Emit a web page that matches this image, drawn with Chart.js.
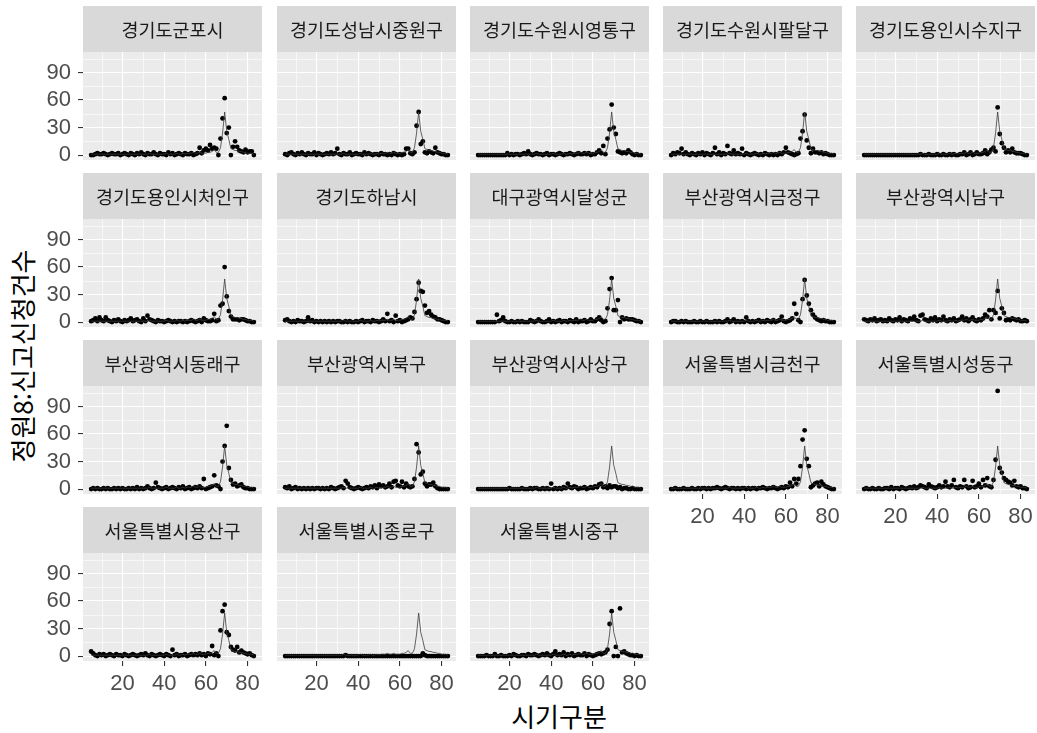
<!DOCTYPE html>
<html lang="ko">
<head>
<meta charset="utf-8">
<title>정원8 신고신청건수</title>
<script src="https://cdn.jsdelivr.net/npm/chart.js@4.4.1/dist/chart.umd.min.js"></script>
<style>
  html, body { margin: 0; padding: 0; background: #ffffff; }
  #wrap { position: relative; width: 1037px; height: 733px; overflow: hidden; background: #ffffff; }
  #wrap canvas { position: absolute; }
  .axis-title { position: absolute; font-family: "Noto Sans CJK KR", "Noto Sans", sans-serif; font-size: 26px; color: #000; line-height: 1; white-space: nowrap; }
  #xTitle { left: 83px; width: 952px; top: 703px; text-align: center; }
  #yTitle { left: 22px; top: 356px; transform: translate(-50%, -50%) rotate(-90deg); }
</style>
</head>
<body>
<div id="wrap">
  <div id="xTitle" class="axis-title">시기구분</div>
  <div id="yTitle" class="axis-title">정원8:신고신청건수</div>
</div>
<script>
// 시기구분 (period index)
const periods = [
  5, 6, 7, 8, 9, 10, 11, 12, 13, 14,
  15, 16, 17, 18, 19, 20, 21, 22, 23, 24,
  25, 26, 27, 28, 29, 30, 31, 32, 33, 34,
  35, 36, 37, 38, 39, 40, 41, 42, 43, 44,
  45, 46, 47, 48, 49, 50, 51, 52, 53, 54,
  55, 56, 57, 58, 59, 60, 61, 62, 63, 64,
  65, 66, 67, 68, 69, 70, 71, 72, 73, 74,
  75, 76, 77, 78, 79, 80, 81, 82, 83
];

// overall average, drawn as the thin reference line in every panel
const averageLine = [
  1, 1, 1, 1, 1, 1, 1, 1, 1, 1,
  1, 1, 1, 1, 1, 1, 1, 1, 1, 1,
  1, 1, 1, 1, 1, 1, 1, 1, 2, 1,
  1, 1, 1, 1, 1, 1, 2, 1, 1, 1,
  1, 2, 1, 1, 2, 1, 2, 2, 2, 3,
  2, 2, 3, 2, 2, 2, 3, 3, 4, 6,
  3, 3, 8, 24, 47, 26, 17, 7, 6, 5,
  5, 4, 4, 3, 3, 2, 2, 2, 1
];

const gunpo = [
  0, 0, 1, 2, 1, 1, 2, 1, 0, 1,
  2, 1, 1, 2, 0, 1, 2, 1, 0, 2,
  1, 0, 2, 1, 3, 1, 0, 2, 1, 1,
  3, 1, 0, 2, 1, 1, 0, 3, 1, 2,
  0, 1, 2, 1, 0, 2, 1, 1, 2, 0,
  1, 2, 8, 2, 5, 7, 5, 11, 7, 8,
  7, 0, 18, 40, 62, 24, 30, 0, 9, 15,
  9, 5, 4, 3, 6, 3, 4, 4, 0
];
const seongnamJungwon = [
  1, 0, 2, 3, 1, 0, 2, 1, 3, 1,
  0, 2, 1, 1, 3, 0, 2, 1, 0, 1,
  2, 1, 3, 1, 2, 7, 1, 0, 2, 1,
  1, 3, 0, 1, 2, 1, 1, 0, 3, 1,
  2, 1, 0, 1, 1, 0, 2, 1, 1, 0,
  1, 0, 2, 1, 0, 1, 0, 1, 7, 7,
  2, 1, 3, 32, 47, 12, 15, 3, 2, 4,
  3, 2, 8, 3, 2, 1, 1, 0, 0
];
const suwonYeongtong = [
  0, 0, 0, 0, 0, 0, 0, 0, 0, 0,
  0, 0, 0, 0, 2, 0, 1, 0, 1, 1,
  0, 1, 2, 1, 4, 1, 0, 1, 2, 1,
  1, 0, 1, 2, 0, 1, 1, 0, 1, 2,
  1, 0, 1, 1, 2, 1, 0, 1, 2, 1,
  1, 2, 1, 2, 0, 1, 1, 3, 5, 2,
  10, 1, 18, 28, 55, 30, 23, 4, 3, 2,
  3, 2, 5, 3, 1, 0, 1, 0, 0
];
const suwonPaldal = [
  0, 2, 1, 3, 2, 7, 1, 3, 1, 0,
  2, 1, 0, 2, 1, 3, 0, 2, 1, 0,
  2, 8, 1, 3, 0, 2, 1, 10, 2, 1,
  5, 1, 2, 1, 7, 0, 2, 1, 0, 1,
  2, 1, 0, 1, 0, 2, 1, 0, 1, 0,
  1, 0, 2, 1, 3, 8, 3, 2, 1, 0,
  1, 2, 18, 26, 44, 16, 8, 2, 7, 3,
  3, 2, 3, 1, 2, 1, 0, 0, 0
];
const yonginSuji = [
  0, 0, 0, 0, 0, 0, 0, 0, 0, 0,
  0, 0, 0, 0, 0, 0, 0, 0, 0, 0,
  0, 0, 0, 0, 0, 0, 0, 1, 0, 0,
  0, 1, 0, 0, 0, 1, 0, 0, 1, 0,
  0, 1, 0, 1, 0, 0, 1, 1, 3, 0,
  1, 3, 0, 1, 3, 1, 1, 2, 5, 1,
  3, 6, 8, 4, 52, 23, 13, 8, 3, 5,
  3, 7, 3, 2, 2, 2, 1, 0, 0
];
const yonginCheoin = [
  1, 2, 4, 1, 5, 2, 1, 5, 2, 1,
  0, 2, 1, 3, 1, 0, 2, 1, 2, 4,
  1, 2, 3, 1, 0, 4, 1, 7, 3, 2,
  1, 0, 2, 1, 1, 0, 1, 2, 1, 0,
  1, 0, 1, 1, 0, 1, 0, 1, 2, 1,
  0, 1, 2, 0, 4, 2, 1, 1, 2, 9,
  1, 2, 18, 20, 60, 28, 12, 6, 3, 3,
  3, 2, 3, 3, 2, 1, 1, 0, 0
];
const hanam = [
  2, 3, 1, 0, 1, 0, 2, 1, 1, 0,
  1, 5, 1, 2, 0, 1, 0, 1, 0, 1,
  0, 1, 0, 1, 0, 1, 1, 0, 0, 1,
  0, 1, 0, 0, 1, 0, 1, 2, 0, 1,
  1, 0, 2, 1, 1, 0, 1, 3, 1, 9,
  1, 2, 0, 7, 1, 2, 0, 1, 2, 3,
  5, 4, 11, 25, 43, 34, 33, 18, 10, 12,
  8, 6, 5, 3, 3, 2, 1, 0, 0
];
const daeguDalseong = [
  0, 0, 0, 0, 0, 0, 0, 0, 0, 8,
  1, 2, 5, 1, 0, 0, 1, 0, 0, 1,
  0, 1, 0, 0, 0, 2, 1, 0, 1, 3,
  1, 0, 0, 1, 3, 0, 1, 0, 1, 2,
  0, 1, 1, 0, 2, 1, 0, 3, 0, 1,
  1, 2, 0, 1, 3, 1, 1, 3, 5, 2,
  0, 1, 15, 36, 48, 13, 13, 24, 0, 5,
  3, 4, 3, 3, 3, 2, 1, 1, 0
];
const busanGeumjeong = [
  0, 1, 1, 0, 0, 1, 0, 1, 0, 0,
  0, 1, 0, 0, 1, 0, 0, 1, 0, 0,
  0, 1, 0, 1, 0, 0, 1, 3, 0, 1,
  3, 0, 1, 0, 1, 0, 5, 1, 0, 1,
  0, 1, 2, 0, 1, 0, 2, 1, 0, 2,
  0, 1, 2, 6, 1, 0, 1, 2, 4, 20,
  9, 2, 0, 25, 46, 29, 20, 13, 8, 5,
  3, 2, 1, 2, 1, 1, 0, 0, 0
];
const busanNam = [
  3, 2, 1, 3, 2, 4, 1, 2, 3, 1,
  2, 1, 4, 2, 1, 3, 2, 5, 1, 3,
  2, 1, 4, 3, 6, 2, 1, 7, 8, 3,
  2, 1, 4, 2, 5, 1, 3, 2, 6, 2,
  1, 3, 2, 4, 1, 2, 3, 6, 2, 4,
  1, 3, 5, 2, 1, 3, 2, 4, 8, 6,
  13, 3, 13, 10, 34, 4, 15, 10, 2, 3,
  2, 4, 3, 2, 3, 1, 1, 2, 1
];
const busanDongnae = [
  0, 1, 0, 1, 0, 0, 1, 0, 1, 0,
  0, 1, 0, 1, 0, 1, 0, 0, 1, 0,
  1, 0, 2, 0, 1, 0, 1, 3, 1, 0,
  1, 7, 2, 1, 0, 1, 2, 0, 1, 2,
  1, 0, 2, 1, 3, 0, 1, 2, 0, 1,
  2, 1, 3, 1, 11, 0, 1, 2, 3, 15,
  4, 3, 0, 30, 47, 69, 23, 10, 5, 6,
  3, 4, 5, 2, 1, 1, 0, 0, 0
];
const busanBuk = [
  2, 1, 3, 0, 1, 2, 0, 1, 0, 1,
  0, 1, 0, 1, 0, 1, 1, 0, 1, 0,
  1, 0, 2, 1, 0, 1, 2, 3, 1, 9,
  6, 2, 1, 0, 1, 2, 1, 0, 1, 2,
  1, 3, 2, 4, 1, 5, 3, 4, 2, 3,
  6, 2, 8, 9, 4, 3, 8, 2, 6, 3,
  2, 3, 11, 49, 40, 16, 19, 6, 3, 5,
  5, 7, 3, 1, 0, 0, 0, 0, 0
];
const busanSasang = [
  0, 0, 0, 0, 0, 0, 0, 0, 0, 0,
  0, 0, 0, 0, 0, 1, 0, 0, 0, 0,
  0, 1, 0, 0, 0, 1, 0, 1, 1, 0,
  0, 1, 0, 1, 0, 6, 0, 1, 0, 1,
  0, 2, 1, 6, 2, 1, 3, 2, 0, 1,
  1, 2, 0, 1, 2, 1, 3, 2, 5, 6,
  2, 3, 1, 4, 2, 3, 3, 1, 2, 0,
  1, 1, 0, 0, 1, 0, 0, 0, 0
];
const seoulGeumcheon = [
  0, 0, 1, 0, 0, 0, 1, 0, 0, 0,
  1, 0, 0, 1, 0, 1, 1, 0, 1, 0,
  1, 1, 2, 1, 0, 1, 2, 1, 0, 1,
  1, 0, 1, 0, 1, 1, 0, 1, 0, 1,
  1, 0, 1, 1, 2, 1, 0, 1, 1, 2,
  1, 0, 1, 2, 1, 3, 2, 7, 3, 11,
  6, 11, 25, 54, 64, 33, 25, 2, 4, 6,
  7, 3, 8, 5, 3, 2, 1, 0, 0
];
const seoulSeongdong = [
  0, 1, 0, 0, 1, 0, 0, 1, 0, 0,
  1, 1, 0, 2, 0, 1, 1, 0, 2, 1,
  0, 1, 2, 1, 3, 1, 2, 4, 3, 2,
  1, 5, 3, 2, 1, 2, 4, 2, 3, 8,
  3, 2, 4, 10, 2, 1, 3, 2, 10, 3,
  1, 2, 9, 2, 3, 6, 2, 10, 4, 12,
  3, 2, 10, 32, 107, 23, 18, 12, 10, 8,
  7, 4, 9, 3, 2, 3, 1, 1, 0
];
const seoulYongsan = [
  5, 3, 1, 0, 2, 1, 2, 0, 1, 2,
  1, 0, 2, 1, 1, 0, 2, 1, 0, 1,
  2, 1, 0, 1, 2, 1, 3, 1, 0, 2,
  1, 0, 1, 2, 1, 0, 2, 1, 0, 7,
  1, 2, 0, 1, 1, 2, 0, 1, 2, 1,
  2, 1, 3, 1, 2, 0, 3, 2, 11, 1,
  3, 0, 28, 49, 56, 26, 23, 10, 7, 6,
  10, 4, 6, 4, 3, 2, 3, 1, 0
];
const seoulJongno = [
  0, 0, 0, 0, 0, 0, 0, 0, 0, 0,
  0, 0, 0, 0, 0, 0, 0, 0, 0, 0,
  0, 0, 0, 0, 0, 0, 0, 0, 0, 1,
  0, 0, 0, 0, 0, 0, 0, 0, 0, 0,
  0, 0, 0, 0, 0, 0, 0, 0, 0, 0,
  0, 0, 0, 0, 0, 0, 0, 0, 0, 0,
  0, 0, 0, 0, 0, 0, 3, 1, 0, 0,
  0, 0, 0, 0, 0, 0, 0, 0, 0
];
const seoulJung = [
  0, 0, 0, 0, 1, 0, 0, 0, 2, 0,
  0, 1, 0, 0, 0, 1, 0, 2, 1, 0,
  0, 1, 1, 0, 2, 1, 1, 2, 1, 0,
  1, 2, 1, 3, 1, 0, 2, 5, 1, 2,
  1, 4, 0, 2, 1, 3, 0, 1, 2, 1,
  1, 3, 0, 2, 1, 0, 1, 2, 3, 2,
  3, 4, 7, 35, 49, 0, 10, 0, 52, 4,
  5, 3, 2, 1, 1, 0, 1, 0, 0
];

// facet order (strip label, series)
const facetLabels = [
  '경기도군포시', '경기도성남시중원구', '경기도수원시영통구', '경기도수원시팔달구', '경기도용인시수지구',
  '경기도용인시처인구', '경기도하남시', '대구광역시달성군', '부산광역시금정구', '부산광역시남구',
  '부산광역시동래구', '부산광역시북구', '부산광역시사상구', '서울특별시금천구', '서울특별시성동구',
  '서울특별시용산구', '서울특별시종로구', '서울특별시중구'
];
const facetSeries = [
  gunpo, seongnamJungwon, suwonYeongtong, suwonPaldal, yonginSuji,
  yonginCheoin, hanam, daeguDalseong, busanGeumjeong, busanNam,
  busanDongnae, busanBuk, busanSasang, seoulGeumcheon, seoulSeongdong,
  seoulYongsan, seoulJongno, seoulJung
];

// axis breaks
const xTicks = [20, 40, 60, 80];
const xMinorTicks = [10, 30, 50, 70];
const yTicks = [0, 30, 60, 90];
const yMinorTicks = [15, 45, 75, 105];

// facet grid geometry
const NCOL = 5;
const colLefts = [83, 277, 470, 663, 856];
const rowTops = [52, 219, 386, 553];
const PANEL_W = 179;
const PANEL_H = 108;
const STRIP_H = 46;
const AXIS_W = 60;
const AXIS_H = 44;
const PAD_R = 12;

// ggplot-style 5% expansion of the shared data range
function expandRange(lo, hi) {
  const d = (hi - lo) * 0.05;
  return [lo - d, hi + d];
}
const [xMin, xMax] = expandRange(Math.min(...periods), Math.max(...periods));
const allValues = facetSeries.flat().concat(averageLine);
const [yMin, yMax] = expandRange(Math.min(0, ...allValues), Math.max(...allValues));

const tickFont = { family: '"Liberation Sans", Arial, sans-serif', size: 22 };

// panel background, minor grid and facet strip
const facetPanel = {
  id: 'facetPanel',
  beforeDraw(chart, args, opts) {
    const { ctx, chartArea: a, scales } = chart;
    ctx.save();
    ctx.fillStyle = '#EBEBEB';
    ctx.fillRect(a.left, a.top, a.right - a.left, a.bottom - a.top);
    ctx.strokeStyle = '#FFFFFF';
    ctx.lineWidth = 0.6;
    ctx.beginPath();
    xMinorTicks.forEach(v => {
      const px = Math.round(scales.x.getPixelForValue(v)) + 0.5;
      ctx.moveTo(px, a.top); ctx.lineTo(px, a.bottom);
    });
    yMinorTicks.forEach(v => {
      const py = Math.round(scales.y.getPixelForValue(v)) + 0.5;
      ctx.moveTo(a.left, py); ctx.lineTo(a.right, py);
    });
    ctx.stroke();
    ctx.fillStyle = '#D9D9D9';
    ctx.fillRect(a.left, a.top - STRIP_H, a.right - a.left, STRIP_H);
    ctx.fillStyle = '#1A1A1A';
    ctx.font = '18.5px "Noto Sans CJK KR", "Noto Sans", sans-serif';
    ctx.textAlign = 'center';
    ctx.textBaseline = 'middle';
    ctx.fillText(opts.label, (a.left + a.right) / 2, a.top - STRIP_H / 2 + 1);
    ctx.restore();
  }
};

const wrap = document.getElementById('wrap');

facetLabels.forEach((label, i) => {
  const row = Math.floor(i / NCOL);
  const col = i % NCOL;
  const showY = col === 0;
  const showX = row === 3 || (row === 2 && col >= 3);

  const canvas = document.createElement('canvas');
  canvas.width = AXIS_W + PANEL_W + PAD_R;
  canvas.height = STRIP_H + PANEL_H + AXIS_H;
  canvas.style.left = (colLefts[col] - AXIS_W) + 'px';
  canvas.style.top = (rowTops[row] - STRIP_H) + 'px';
  wrap.appendChild(canvas);

  const values = facetSeries[i];

  new Chart(canvas, {
    type: 'scatter',
    data: {
      datasets: [
        {
          type: 'line',
          data: periods.map((p, k) => ({ x: p, y: averageLine[k] })),
          borderColor: '#3C3C3C',
          borderWidth: 0.8,
          pointRadius: 0,
          tension: 0,
          fill: false
        },
        {
          type: 'scatter',
          data: periods.map((p, k) => ({ x: p, y: values[k] })),
          backgroundColor: '#000000',
          borderWidth: 0,
          pointRadius: 2.4
        }
      ]
    },
    options: {
      responsive: false,
      animation: false,
      devicePixelRatio: 1,
      events: [],
      layout: { padding: { top: STRIP_H, right: PAD_R, left: 0, bottom: 0 } },
      plugins: {
        legend: { display: false },
        tooltip: { enabled: false },
        facetPanel: { label }
      },
      scales: {
        x: {
          type: 'linear',
          min: xMin,
          max: xMax,
          afterBuildTicks: s => { s.ticks = xTicks.map(v => ({ value: v })); },
          afterFit: s => { s.height = AXIS_H; },
          border: { display: false },
          grid: {
            color: '#FFFFFF', lineWidth: 1.1,
            drawTicks: showX, tickLength: 5, tickColor: '#333333', tickWidth: 1.1
          },
          ticks: {
            display: showX, font: tickFont, color: '#4D4D4D',
            padding: 5, maxRotation: 0, autoSkip: false
          }
        },
        y: {
          type: 'linear',
          min: yMin,
          max: yMax,
          afterBuildTicks: s => { s.ticks = yTicks.map(v => ({ value: v })); },
          afterFit: s => { s.width = AXIS_W; },
          border: { display: false },
          grid: {
            color: '#FFFFFF', lineWidth: 1.1,
            drawTicks: showY, tickLength: 5, tickColor: '#333333', tickWidth: 1.1
          },
          ticks: {
            display: showY, font: tickFont, color: '#4D4D4D',
            padding: 7, autoSkip: false
          }
        }
      }
    },
    plugins: [facetPanel]
  });
});
</script>
</body>
</html>
